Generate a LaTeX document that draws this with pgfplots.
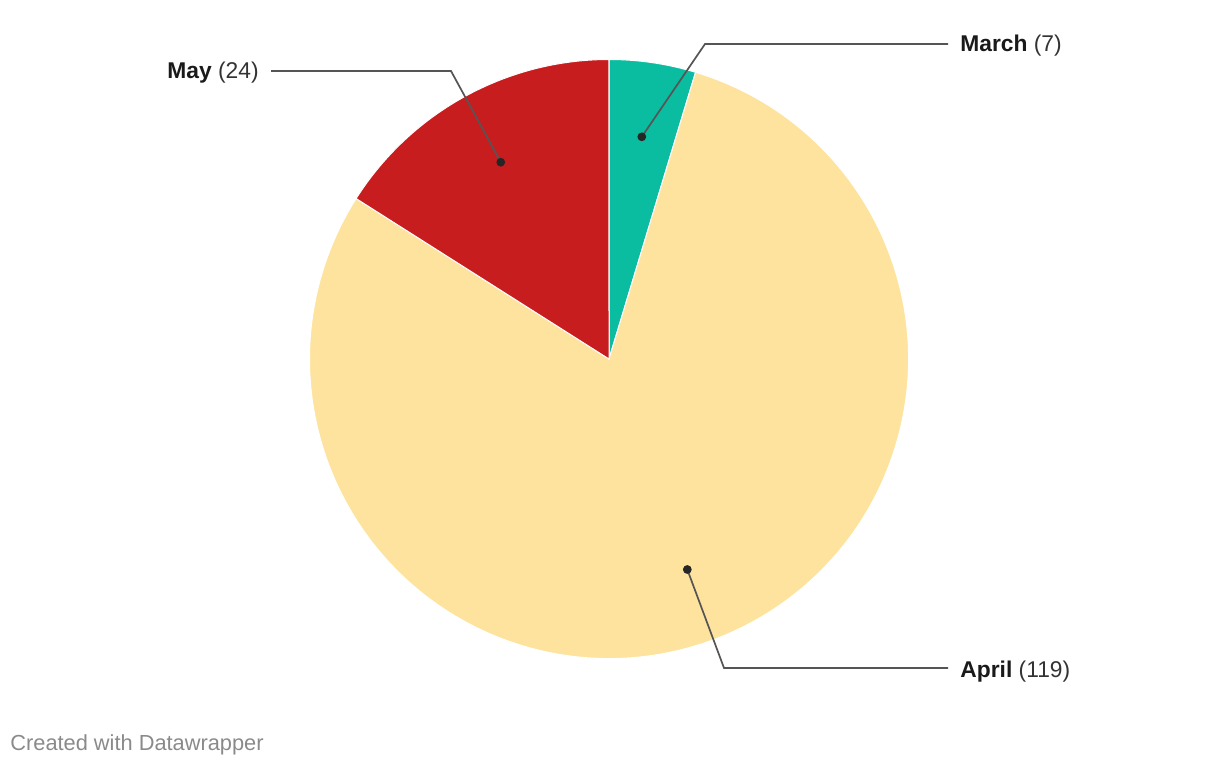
\documentclass[border=0pt]{standalone}
\usepackage{pgfplots}
\usepackage{pgfplotstable}
\pgfplotsset{compat=1.18}
\usepackage{fontspec}
\setmainfont{Liberation Sans}
\definecolor{cMarch}{HTML}{0BBDA0}
\definecolor{cApril}{HTML}{FDE39D}
\definecolor{cMay}{HTML}{C81D1E}
\definecolor{leader}{HTML}{555555}
\definecolor{lbl}{HTML}{1A1A1A}
\definecolor{foot}{HTML}{8A8A8A}

\pgfplotstableread{
label value
March 7
April 119
May 24
}\piedata

\pgfplotstablegetelem{0}{value}\of\piedata \let\vA\pgfplotsretval
\pgfplotstablegetelem{1}{value}\of\piedata \let\vB\pgfplotsretval
\pgfplotstablegetelem{2}{value}\of\piedata \let\vC\pgfplotsretval
\pgfmathsetmacro\total{\vA+\vB+\vC}
\pgfmathsetmacro\aA{90}
\pgfmathsetmacro\aB{\aA-360*(\vA/\total)}
\pgfmathsetmacro\aC{\aB-360*(\vB/\total)}
\pgfmathsetmacro\aD{\aC-360*(\vC/\total)}
\pgfmathsetmacro\mA{(\aA+\aB)/2}
\pgfmathsetmacro\mB{(\aB+\aC)/2}
\pgfmathsetmacro\mC{(\aC+\aD)/2}
\def\R{149.75pt}
\def\Rd{112.3pt}

\begin{document}
\begin{tikzpicture}
\begin{axis}[
  x=0.5pt, y=0.5pt,
  xmin=0, xmax=1220, ymin=0, ymax=766,
  hide axis, clip=false,
  anchor=south west, at={(0,0)},
]
\fill[cMarch, draw=white, line width=0.5pt] (axis cs:609,407) -- ++(\aA:\R) arc[start angle=\aA, end angle=\aB, radius=\R] -- cycle;
\fill[cApril, draw=white, line width=0.5pt] (axis cs:609,407) -- ++(\aB:\R) arc[start angle=\aB, end angle=\aC, radius=\R] -- cycle;
\fill[cMay, draw=white, line width=0.5pt] (axis cs:609,407) -- ++(\aC:\R) arc[start angle=\aC, end angle=\aD, radius=\R] -- cycle;

\draw[leader, line width=0.85pt] (axis cs:609,407) ++(\mA:\Rd) -- (axis cs:705,722) -- (axis cs:948,722);
\draw[leader, line width=0.85pt] (axis cs:609,407) ++(\mB:\Rd) -- (axis cs:724,98) -- (axis cs:948,98);
\draw[leader, line width=0.85pt] (axis cs:609,407) ++(\mC:\Rd) -- (axis cs:451,695) -- (axis cs:271,695);
\fill[black!85] (axis cs:609,407) ++(\mA:\Rd) circle[radius=2.2pt];
\fill[black!85] (axis cs:609,407) ++(\mB:\Rd) circle[radius=2.2pt];
\fill[black!85] (axis cs:609,407) ++(\mC:\Rd) circle[radius=2.2pt];

\node[anchor=base west, inner sep=0pt, text=lbl, font=\fontsize{11.4}{13}\selectfont] at (axis cs:960,714) {\textbf{March} \textcolor{black!80}{(7)}};
\node[anchor=base west, inner sep=0pt, text=lbl, font=\fontsize{11.4}{13}\selectfont] at (axis cs:960,89) {\textbf{April} \textcolor{black!80}{(119)}};
\node[anchor=base east, inner sep=0pt, text=lbl, font=\fontsize{11.4}{13}\selectfont] at (axis cs:259,687) {\textbf{May} \textcolor{black!80}{(24)}};
\node[anchor=base west, inner sep=0pt, text=foot, font=\fontsize{10.9}{12}\selectfont] at (axis cs:10,16) {Created with Datawrapper};
\end{axis}
\pgfresetboundingbox
\path (0,0) rectangle (610pt,383pt);
\end{tikzpicture}
\end{document}
